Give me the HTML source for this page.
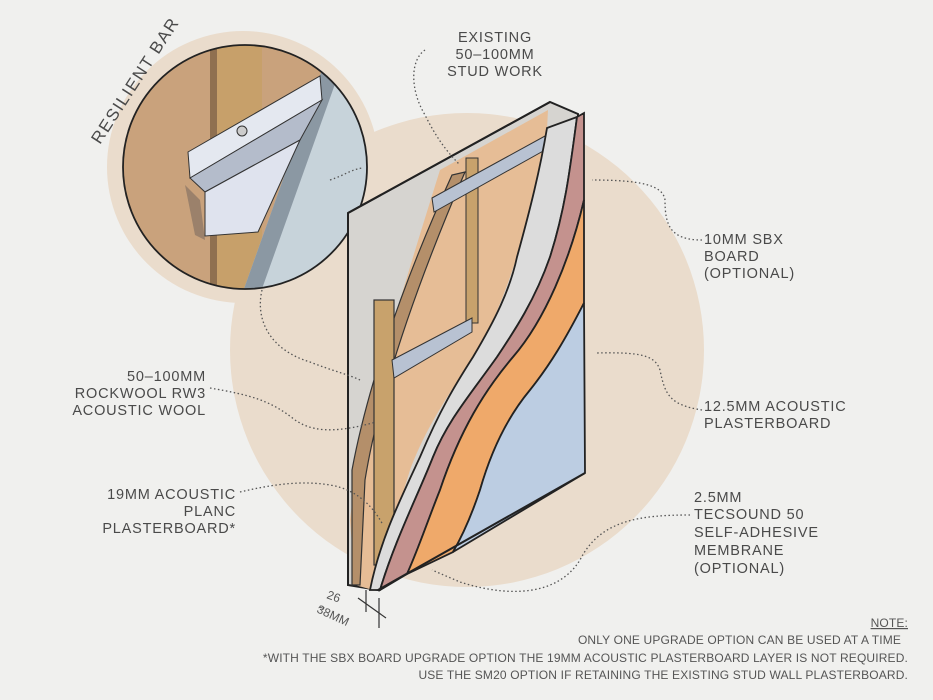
<!DOCTYPE html>
<html><head><meta charset="utf-8"><style>
html,body{margin:0;padding:0;background:#f0f0ee;}
svg{display:block}
text{font-family:"Liberation Sans",sans-serif;fill:#4a4a4a;font-size:14.5px;letter-spacing:0.8px}
.n{font-size:12px;letter-spacing:0.15px;fill:#555}
.d{fill:none;stroke:#555;stroke-width:1.3;stroke-dasharray:1.5 2.5}
.k{fill:none;stroke:#222;stroke-width:2}
</style></head><body>
<svg width="933" height="700" viewBox="0 0 933 700" xmlns="http://www.w3.org/2000/svg">
<rect width="933" height="700" fill="#f0f0ee"/>
<circle cx="467" cy="350" r="237" fill="#eadccc"/>
<circle cx="243" cy="167" r="136" fill="#eadccc"/>

<defs><clipPath id="c1"><circle cx="245" cy="167" r="122"/></clipPath></defs>
<g clip-path="url(#c1)">
<rect x="100" y="30" width="300" height="280" fill="#c9a27c"/>
<rect x="210" y="40" width="52" height="260" fill="#c7a06a"/>
<rect x="210" y="40" width="7" height="260" fill="#8f7050"/>
<polygon points="322,70 400,70 400,300 240,300" fill="#c7d3da"/>
<polygon points="322,70 340,70 258,300 240,300" fill="#8b98a3"/>
<polygon points="185,185 195,235 205,240 200,200" fill="#7d6a60" opacity="0.6"/>
<polygon points="188,152 320,76 322,100 190,178" fill="#e4e8f0" stroke="#333" stroke-width="1"/>
<polygon points="190,178 322,100 300,140 205,192" fill="#b4bccb" stroke="#333" stroke-width="1"/>
<polygon points="205,192 300,140 258,232 205,236" fill="#dfe3ee" stroke="#333" stroke-width="1"/>
<circle cx="242" cy="131" r="5" fill="#ccc" stroke="#333"/>
</g>
<circle cx="245" cy="167" r="122" fill="none" stroke="#222" stroke-width="1.8"/>
<text transform="translate(100,145) rotate(-57)" style="font-size:17px;letter-spacing:1.5px">RESILIENT BAR</text>

<polygon points="348,213 550,102 578,114 578,470 378,590 348,585" fill="#d6d4d0" stroke="#222" stroke-width="2"/>
<path d="M440,170 L548,110 L547,130 C535,200 510,300 473,357 C445,400 425,430 410,470 C395,520 380,560 373,590 L355,585 L350,520 C360,430 390,330 440,170 Z" fill="#e6bd96"/>
<path d="M352,470 C365,400 395,300 452,175 L465,172 C410,300 378,400 365,480 L360,585 L352,585 Z" fill="#b48f6a" stroke="#333" stroke-width="1.2"/>
<rect x="466" y="158" width="12" height="165" fill="#c8a26c" stroke="#333" stroke-width="1"/>
<rect x="374" y="300" width="20" height="265" fill="#c8a26c" stroke="#333" stroke-width="1.2"/>
<polygon points="432,198 545,136 545,150 434,212" fill="#b8c2d2" stroke="#333" stroke-width="1"/>
<polygon points="392,360 472,318 472,332 394,378" fill="#b8c2d2" stroke="#333" stroke-width="1"/>
<path d="M547,128 L577,117 C570,170 565,210 550,257 C535,300 515,330 497,357 C470,395 448,420 433,457 C418,495 395,540 380,590 L370,590 C380,540 400,500 420,457 C440,410 455,385 473,357 C495,320 510,290 517,257 C530,210 540,170 547,128 Z" fill="#dcdcdc" stroke="#222" stroke-width="1.8"/>
<path d="M577,117 L584,113 L584,200 C570,260 545,320 513,357 C485,390 460,430 440,490 C428,520 418,550 407,574 L380,590 C395,540 418,495 433,457 C448,420 470,395 497,357 C515,330 535,300 550,257 C565,210 570,170 577,117 Z" fill="#c4928e" stroke="#222" stroke-width="1.8"/>
<path d="M584,200 L584,303 C565,340 550,365 530,390 C505,420 490,455 480,490 C470,520 460,540 453,552 L407,574 C418,550 428,520 440,490 C460,430 485,390 513,357 C545,320 570,260 584,200 Z" fill="#efa96a" stroke="#222" stroke-width="1.8"/>
<path d="M584,303 L585,473 L453,552 C460,540 470,520 480,490 C490,455 505,420 530,390 C550,365 565,340 584,303 Z" fill="#bccde2" stroke="#222" stroke-width="1.8"/>
<line x1="348" y1="213" x2="550" y2="102" class="k"/>
<line x1="378" y1="590" x2="585" y2="473" class="k"/>

<path class="d" d="M425,50 C410,60 410,90 425,115 C435,135 445,150 460,165"/>
<path class="d" d="M702,240 C670,240 665,225 665,200 C663,185 640,180 592,180"/>
<path class="d" d="M702,410 C670,405 665,395 660,370 C655,355 640,352 596,353"/>
<path class="d" d="M690,515 C640,515 600,520 580,560 C555,600 500,595 460,582 L432,570"/>
<path class="d" d="M210,388 C250,395 270,400 295,420 C310,430 330,435 376,422"/>
<path class="d" d="M240,492 C270,485 300,480 330,485 C360,490 375,510 383,525"/>
<path class="d" d="M262,290 C255,320 270,350 310,362 C330,370 350,375 360,380"/>
<path class="d" d="M330,180 C345,175 350,170 362,168"/>

<g stroke="#333" stroke-width="1.2">
<line x1="358" y1="598" x2="386" y2="618"/>
<line x1="366" y1="590" x2="366" y2="612"/>
<line x1="379" y1="598" x2="379" y2="628"/>
</g>
<text x="326" y="598" class="n" transform="rotate(20 326 598)">26</text>
<text x="318" y="612" class="n">~</text>
<text x="316" y="612" class="n" transform="rotate(25 316 612)">38MM</text>

<g text-anchor="middle">
<text x="495" y="42">EXISTING</text>
<text x="495" y="59">50–100MM</text>
<text x="495" y="76">STUD WORK</text>
</g>
<text x="704" y="244">10MM SBX</text>
<text x="704" y="261">BOARD</text>
<text x="704" y="278">(OPTIONAL)</text>
<text x="704" y="411">12.5MM ACOUSTIC</text>
<text x="704" y="428">PLASTERBOARD</text>
<text x="694" y="502">2.5MM</text>
<text x="694" y="519">TECSOUND 50</text>
<text x="694" y="537">SELF-ADHESIVE</text>
<text x="694" y="555">MEMBRANE</text>
<text x="694" y="573">(OPTIONAL)</text>
<g text-anchor="end">
<text x="206" y="381">50–100MM</text>
<text x="206" y="398">ROCKWOOL RW3</text>
<text x="206" y="415">ACOUSTIC WOOL</text>
<text x="236" y="499">19MM ACOUSTIC</text>
<text x="236" y="516">PLANC</text>
<text x="236" y="533">PLASTERBOARD*</text>
<text x="908" y="627" class="n" text-decoration="underline">NOTE:</text>
<text x="901" y="644" class="n">ONLY ONE UPGRADE OPTION CAN BE USED AT A TIME</text>
<text x="908" y="662" class="n">*WITH THE SBX BOARD UPGRADE OPTION THE 19MM ACOUSTIC PLASTERBOARD LAYER IS NOT REQUIRED.</text>
<text x="908" y="679" class="n">USE THE SM20 OPTION IF RETAINING THE EXISTING STUD WALL PLASTERBOARD.</text>
</g>
</svg>
</body></html>
